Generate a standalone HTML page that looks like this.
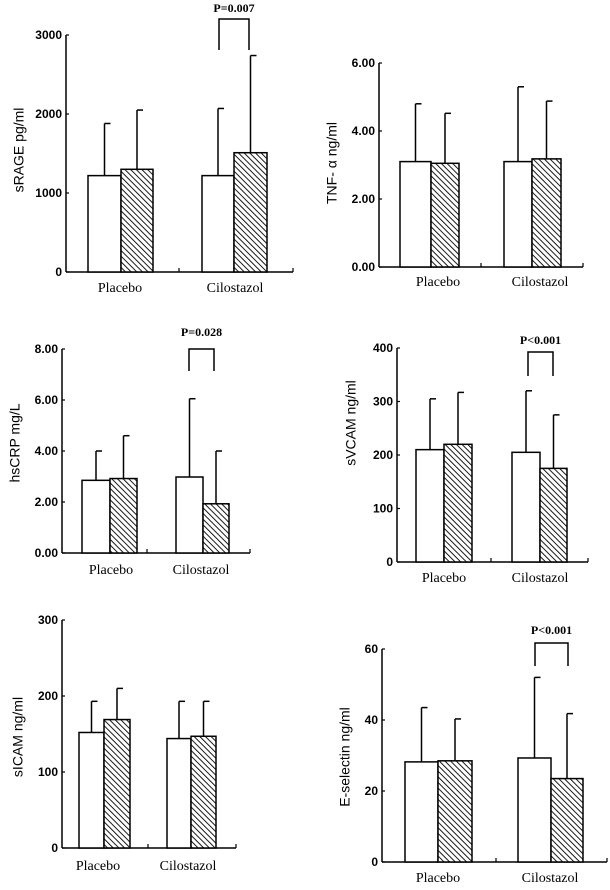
<!DOCTYPE html>
<html><head><meta charset="utf-8"><style>
html,body{margin:0;padding:0;background:#fff;}
svg{display:block;}
text{fill:#000;}
.tk{font-family:"Liberation Sans",sans-serif;font-size:12px;font-weight:bold;}
.cat{font-family:"Liberation Serif",serif;font-size:14px;}
.yl{font-family:"Liberation Sans","Noto Sans CJK JP",sans-serif;font-size:14px;}
.pv{font-family:"Liberation Serif",serif;font-size:12px;font-weight:bold;}
</style></head><body>
<svg id="fig" width="610" height="890" viewBox="0 0 610 890" xmlns="http://www.w3.org/2000/svg">
<defs>
<pattern id="hatch" patternUnits="userSpaceOnUse" width="4" height="4" patternTransform="rotate(-45)">
<rect width="4" height="4" fill="#fff"/><line x1="0" y1="0" x2="0" y2="4" stroke="#000" stroke-width="1.8"/>
</pattern>
</defs>
</svg>
<script>
// ---- data ----
const categories = ["Placebo", "Cilostazol"];
const sragePlacebo = [1220, 1300], srageCilo = [1220, 1510];
const srageErrP = [1880, 2050], srageErrC = [2070, 2740];
const srageTicks = ["0", "1000", "2000", "3000"];
const tnfPlacebo = [3.1, 3.05], tnfCilo = [3.1, 3.18];
const tnfErrP = [4.8, 4.52], tnfErrC = [5.3, 4.88];
const tnfTicks = ["0.00", "2.00", "4.00", "6.00"];
const crpPlacebo = [2.85, 2.92], crpCilo = [2.98, 1.93];
const crpErrP = [4.0, 4.6], crpErrC = [6.05, 4.0];
const crpTicks = ["0.00", "2.00", "4.00", "6.00", "8.00"];
const vcamPlacebo = [210, 220], vcamCilo = [205, 175];
const vcamErrP = [305, 317], vcamErrC = [320, 275];
const vcamTicks = ["0", "100", "200", "300", "400"];
const icamPlacebo = [152, 169], icamCilo = [144, 147];
const icamErrP = [193, 210], icamErrC = [193, 193];
const icamTicks = ["0", "100", "200", "300"];
const eselPlacebo = [28.2, 28.5], eselCilo = [29.3, 23.5];
const eselErrP = [43.5, 40.3], eselErrC = [52, 41.8];
const eselTicks = ["0", "20", "40", "60"];

const panels = [
 {id:"srage", label:"sRAGE pg/ml", vals:[sragePlacebo, srageCilo], errs:[srageErrP, srageErrC], ticks:srageTicks,
  ax:66, top:35, y0:272, xend:293, bars:[[88,121,153],[202,234,267]], mid:179, catY:292, catX:[120,235], ylx:20, yly:150,
  p:"P=0.007", br:[219,249,19,50], pY:12},
 {id:"tnf", label:"TNF- α ng/ml", vals:[tnfPlacebo, tnfCilo], errs:[tnfErrP, tnfErrC], ticks:tnfTicks,
  ax:379, top:63, y0:267, xend:583, bars:[[400,431,459],[504,532,561]], mid:481, catY:286, catX:[438,540], ylx:333, yly:163},
 {id:"hscrp", label:"hsCRP mg/L", vals:[crpPlacebo, crpCilo], errs:[crpErrP, crpErrC], ticks:crpTicks,
  ax:62, top:349, y0:553, xend:250, bars:[[82,110,137],[176,203,229]], mid:147, catY:574, catX:[111,201], ylx:16, yly:443,
  p:"P=0.028", br:[189,214,349,371], pY:336},
 {id:"svcam", label:"sVCAM ng/ml", vals:[vcamPlacebo, vcamCilo], errs:[vcamErrP, vcamErrC], ticks:vcamTicks,
  ax:397, top:348, y0:562, xend:588, bars:[[416,444,472],[512,540,567]], mid:491, catY:582, catX:[444,540], ylx:352, yly:423,
  p:"P<0.001", br:[528,553,352,376], pY:344},
 {id:"sicam", label:"sICAM ng/ml", vals:[icamPlacebo, icamCilo], errs:[icamErrP, icamErrC], ticks:icamTicks,
  ax:62, top:620, y0:848, xend:236, bars:[[79,104,130],[167,191,216]], mid:148, catY:870, catX:[98,188], ylx:19, yly:737},
 {id:"eselectin", label:"E-selectin ng/ml", vals:[eselPlacebo, eselCilo], errs:[eselErrP, eselErrC], ticks:eselTicks,
  ax:382, top:649, y0:862, xend:607, bars:[[405,438,472],[518,551,583]], mid:496, catY:882, catX:[438,550], ylx:346, yly:757,
  p:"P<0.001", br:[535,568,643,666], pY:634}
];

const NS = "http://www.w3.org/2000/svg";
const svg = document.getElementById("fig");
function mk(tag, attrs, parent){
  const e = document.createElementNS(NS, tag);
  for (const k in attrs) e.setAttribute(k, attrs[k]);
  (parent||svg).appendChild(e);
  return e;
}
panels.forEach(p => {
  const g = mk("g", {});
  
  
  const tmax = parseFloat(p.ticks[p.ticks.length-1]);
  const y = v => p.y0 - (v / tmax) * (p.y0 - p.top);
  const ya = mk("line", {x1:p.ax, y1:p.top, x2:p.ax, y2:p.y0, stroke:"#000", "stroke-width":1.5}, g);
  
  
  p.ticks.forEach(t => {
    const ty = y(parseFloat(t));
    mk("line", {x1:p.ax, y1:ty, x2:p.ax+3, y2:ty, stroke:"#000", "stroke-width":1.2}, g);
    const tt = mk("text", {x:p.ax-4, y:ty+4, "text-anchor":"end", class:"tk"}, g);
    tt.textContent = t;
    
    
  });
  const xa = mk("line", {x1:p.ax, y1:p.y0, x2:p.xend, y2:p.y0, stroke:"#000", "stroke-width":1.5}, g);
  
  
  [p.mid, p.xend].forEach(x => mk("line", {x1:x, y1:p.y0, x2:x, y2:p.y0-4, stroke:"#000", "stroke-width":1.2}, g));
  categories.forEach((c, ci) => {
    const b = p.bars[ci];
    for (let s = 0; s < 2; s++) {
      const v = p.vals[ci][s], e = p.errs[ci][s];
      const xl = b[s], xr = b[s+1], cx = (xl + xr) / 2;
      const er = mk("line", {x1:cx, y1:y(v), x2:cx, y2:y(e), stroke:"#000", "stroke-width":1.5}, g);
      
      
      mk("line", {x1:cx, y1:y(e), x2:cx+6, y2:y(e), stroke:"#000", "stroke-width":1.5}, g);
      const r = mk("rect", {x:xl, y:y(v), width:xr-xl, height:p.y0-y(v), fill: s ? "url(#hatch)" : "#fff", stroke:"#000", "stroke-width":1.5}, g);
      
      
    }
    const ct = mk("text", {x:p.catX[ci], y:p.catY, "text-anchor":"middle", class:"cat"}, g);
    ct.textContent = c;
    
    
  });
  const yl = mk("text", {x:p.ylx, y:p.yly, "text-anchor":"middle", class:"yl", transform:`rotate(-90 ${p.ylx} ${p.yly})`, "dominant-baseline":"middle"}, g);
  yl.textContent = p.label;
  
  
  if (p.p) {
    const [x1, x2, yt, yb] = p.br;
    const br = mk("path", {d:`M${x1} ${yb} L${x1} ${yt} L${x2} ${yt} L${x2} ${yb}`, fill:"none", stroke:"#000", "stroke-width":1.5}, g);
    
    
    const pt = mk("text", {x:(x1+x2)/2, y:p.pY, "text-anchor":"middle", class:"pv"}, g);
    pt.textContent = p.p;
    
    
  }
});
</script>
</body></html>
